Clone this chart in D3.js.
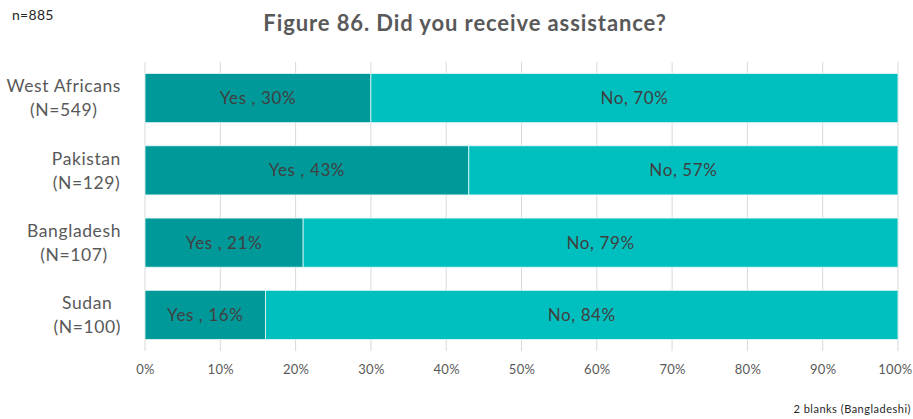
<!DOCTYPE html>
<html><head><meta charset="utf-8">
<script src="https://cdn.jsdelivr.net/npm/d3@7"></script>
<style>body{margin:0;background:#fff;} svg{display:block;font-family:Lato,"Open Sans",sans-serif;}</style>
</head><body><svg id="c" width="913" height="419"></svg>
<script>
const categories = ["West Africans", "Pakistan", "Bangladesh", "Sudan"];
const sampleSizes = ["(N=549)", "(N=129)", "(N=107)", "(N=100)"];
const yesValues = [30, 43, 21, 16];
const noValues = [70, 57, 79, 84];
const seriesNames = ["Yes", "No"];
const ticks = [0,10,20,30,40,50,60,70,80,90,100];

const svg = d3.select("#c");
const m = {left:145, right:15, top:62, bottom:68};
const W = 913, H = 419;
const x = d3.scaleLinear().domain([0,100]).range([m.left, W-m.right]);
const y = d3.scaleBand().domain(categories).range([m.top, H-m.bottom]).paddingInner(0.32).paddingOuter(0.16);

svg.append("g").selectAll("line").data(ticks).join("line")
  .attr("x1", d=>x(d)).attr("x2", d=>x(d)).attr("y1", m.top).attr("y2", H-m.bottom)
  .attr("stroke", "#d9d9d9").attr("stroke-width", 1);

const ax = d3.axisBottom(x).tickValues(ticks).tickFormat(d=>d+"%").tickSize(0).tickPadding(14);
const axg = svg.append("g").attr("transform", `translate(0,${H-m.bottom})`).call(ax);
axg.select(".domain").remove();
axg.selectAll("text").attr("fill","#595959").style("font-size","13px").style("letter-spacing","0.3px").style("font-family","Lato,'Open Sans',sans-serif");
// keep the last tick label inside the picture
axg.selectAll(".tick").filter(d=>d===100).select("text")
  .attr("text-anchor","end").attr("x", W-1-x(100));

const colors = ["#009999", "#00BFBF"];
const sep = {"Yes":" , ", "No":", "};
const rows = categories.map((c,i)=>({c, segs:[{name:seriesNames[0], v:yesValues[i], x0:0}, {name:seriesNames[1], v:noValues[i], x0:yesValues[i]}]}));

rows.forEach(r=>{
  const g = svg.append("g");
  g.selectAll("rect").data(r.segs).join("rect")
    .attr("x", d=>x(d.x0)).attr("width", d=>x(d.x0+d.v)-x(d.x0))
    .attr("y", y(r.c)).attr("height", y.bandwidth())
    .attr("fill", (d,i)=>colors[i]).attr("stroke","#e6f7f7").attr("stroke-width",0.8);
  g.selectAll("text").data(r.segs).join("text")
    .attr("x", d=>x(d.x0 + d.v/2)).attr("y", y(r.c)+y.bandwidth()/2)
    .attr("dy","0.36em").attr("text-anchor","middle")
    .attr("fill","#404040").style("font-size","17px").style("letter-spacing","0.6px")
    .text(d=>`${d.name}${sep[d.name]}${d.v}%`);
});

categories.forEach((c,i)=>{
  const g = svg.append("g");
  const cy = y(c)+y.bandwidth()/2;
  const t1 = g.append("text").attr("y", cy-12).attr("dy","0.36em").text(c);
  const t2 = g.append("text").attr("y", cy+12).attr("dy","0.36em").text(sampleSizes[i]);
  g.selectAll("text").attr("fill","#595959").style("font-size","17.5px").style("letter-spacing","0.6px").attr("text-anchor","middle");
  const w = Math.max(t1.node().getComputedTextLength(), t2.node().getComputedTextLength());
  g.selectAll("text").attr("x", 121 - w/2);
});

svg.append("text").attr("x", 465).attr("y", 31).attr("text-anchor","middle")
  .attr("fill","#595959").style("font-size","22px").style("font-weight","bold").style("letter-spacing","0.9px")
  .text("Figure 86. Did you receive assistance?");
svg.append("text").attr("x", 12).attr("y", 20).attr("fill","#262626").style("font-size","14px").style("letter-spacing","0.3px").text("n=885");
svg.append("text").attr("x", 911).attr("y", 413).attr("text-anchor","end").attr("fill","#262626").style("font-size","11px").style("letter-spacing","0.5px").text("2 blanks (Bangladeshi)");
</script></body></html>
